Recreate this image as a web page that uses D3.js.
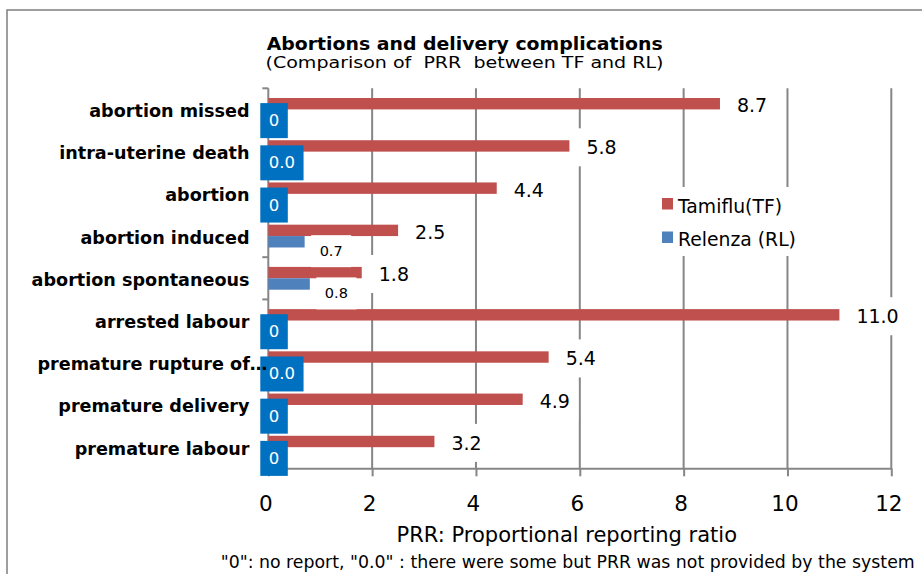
<!DOCTYPE html>
<html>
<head>
<meta charset="utf-8">
<script src="https://cdn.jsdelivr.net/npm/d3@7"></script>
<style>
  body { margin: 0; background: #fff; }
  text { font-family: "DejaVu Sans", Verdana, sans-serif; }
</style>
</head>
<body>
<div class="chart"></div>
<script>
var svgWidth = 922;
var svgHeight = 574;

// data
var categories = ["abortion missed", "intra-uterine death", "abortion ", "abortion induced",
  "abortion spontaneous", "arrested labour", "premature rupture of\u2026",
  "premature delivery", "premature labour"];
var tfValues = [8.7, 5.8, 4.4, 2.5, 1.8, 11.0, 5.4, 4.9, 3.2];
var rlValues = [0, 0, 0, 0.7, 0.8, 0, 0, 0, 0];
var rlLabels = ["0", "0.0", "0", "0.7", "0.8", "0", "0.0", "0", "0"];
var seriesNames = ["Tamiflu(TF)", "Relenza (RL)"];
var xTicks = [0, 2, 4, 6, 8, 10, 12];

var red = "#C0504D";
var blue = "#4F81BD";
var labelBlue = "#0070C0";
var gridGray = "#868686";

var svg = d3.select(".chart")
  .append("svg")
  .attr("width", svgWidth)
  .attr("height", svgHeight);

svg.append("rect")
  .attr("width", svgWidth)
  .attr("height", svgHeight)
  .attr("fill", "#fff");

// outer frame (right and bottom edges fall outside the picture)
svg.append("rect")
  .attr("x", 7)
  .attr("y", 10)
  .attr("width", 960)
  .attr("height", 600)
  .attr("fill", "none")
  .attr("stroke", "#7f7f7f")
  .attr("stroke-width", 1.5);

// scales
var xScale = d3.scaleLinear()
  .domain([0, 12])
  .range([268.3, 891.3]);

var y0 = d3.scaleBand()
  .domain(categories)
  .range([88.3, 468.3])
  .paddingInner(0.46)
  .paddingOuter(0.23);

var y1 = d3.scaleBand()
  .domain(["TF", "RL"])
  .range([0, y0.bandwidth()]);

var rows = categories.map(function(c, i) {
  return { cat: c, tf: tfValues[i], rl: rlValues[i], rlLabel: rlLabels[i] };
});

// gridlines
svg.append("g")
  .selectAll("line")
  .data(xTicks.filter(d => d > 0))
  .enter()
  .append("line")
  .attr("x1", d => xScale(d))
  .attr("x2", d => xScale(d))
  .attr("y1", 88.3)
  .attr("y2", 468.3)
  .attr("stroke", gridGray)
  .attr("stroke-width", 2);

// x axis
var bottomAxis = d3.axisBottom(xScale)
  .tickValues(xTicks)
  .tickSize(8)
  .tickSizeOuter(0)
  .tickPadding(19);

var xAxis = svg.append("g")
  .attr("transform", "translate(0, 468.3)")
  .call(bottomAxis);

xAxis.select(".domain").attr("stroke", gridGray).attr("stroke-width", 2);
xAxis.selectAll(".tick line").attr("stroke", gridGray).attr("stroke-width", 2);
xAxis.selectAll(".tick text")
  .attr("font-size", "21.5px")
  .attr("font-family", "DejaVu Sans")
  .attr("fill", "#000")
  .attr("dx", -3);

// y axis: line plus ticks at band boundaries
var step = y0.step();
var boundaries = d3.range(categories.length + 1).map(i => 88.3 + i * step);

svg.append("g")
  .selectAll("line")
  .data(boundaries)
  .enter()
  .append("line")
  .attr("x1", 262.3)
  .attr("x2", 268.3)
  .attr("y1", d => d)
  .attr("y2", d => d)
  .attr("stroke", gridGray)
  .attr("stroke-width", 2);

svg.append("line")
  .attr("x1", 268.3)
  .attr("x2", 268.3)
  .attr("y1", 88.3)
  .attr("y2", 468.3)
  .attr("stroke", gridGray)
  .attr("stroke-width", 2);

// bars
var barGroups = svg.append("g")
  .selectAll("g")
  .data(rows)
  .enter()
  .append("g")
  .attr("transform", d => `translate(0, ${y0(d.cat)})`);

barGroups.append("rect")
  .attr("x", xScale(0))
  .attr("y", y1("TF"))
  .attr("width", d => xScale(d.tf) - xScale(0))
  .attr("height", y1.bandwidth())
  .attr("fill", red);

barGroups.append("rect")
  .attr("x", xScale(0))
  .attr("y", y1("RL"))
  .attr("width", d => xScale(d.rl) - xScale(0))
  .attr("height", y1.bandwidth())
  .attr("fill", blue);

// data labels with boxed backgrounds
function boxedLabel(g, x, y, txt, size, textFill, boxFill) {
  var lg = g.append("g");
  var box = lg.append("rect").attr("fill", boxFill);
  var t = lg.append("text")
    .attr("x", x)
    .attr("y", y)
    .attr("font-size", size)
    .attr("fill", textFill)
    .text(txt);
  var bb = t.node().getBBox();
  box.attr("x", bb.x - 8.5)
    .attr("y", bb.y - 8)
    .attr("width", bb.width + 17)
    .attr("height", bb.height + 16);
}

var labelLayer = svg.append("g");

rows.forEach(function(d) {
  var top = y0(d.cat);
  var redMid = top + y1("TF") + y1.bandwidth() / 2;
  var blueMid = top + y1("RL") + y1.bandwidth() / 2;

  boxedLabel(labelLayer, xScale(d.tf) + 17, redMid + 8.4,
    d3.format(".1f")(d.tf), "19px", "#000", "#fff");

  if (d.rl > 0) {
    boxedLabel(labelLayer, xScale(d.rl) + 15, blueMid + 14.4,
      d.rlLabel, "14.5px", "#000", "#fff");
  } else {
    boxedLabel(labelLayer, xScale(0) + 0.5, blueMid + 11,
      d.rlLabel, "16.5px", "#fff", labelBlue);
  }
});

// category labels (drawn last, the truncated one runs over a label box)
var catLabels = svg.append("g")
  .selectAll("text")
  .data(categories)
  .enter()
  .append("text")
  .attr("x", 249.5)
  .attr("y", d => y0(d) + y0.bandwidth() / 2 + 7.5)
  .attr("text-anchor", "end")
  .attr("font-size", "17.6px")
  .attr("font-weight", "bold")
  .attr("fill", "#000")
  .text(d => d);

// labels that do not fit start at the left edge of the plot
catLabels.each(function() {
  var w = this.getComputedTextLength();
  if (249.5 - w < 30) {
    d3.select(this).attr("text-anchor", "start").attr("x", 37.5);
  }
});

// legend
var legend = svg.append("g");

legend.append("rect")
  .attr("x", 652)
  .attr("y", 187)
  .attr("width", 156)
  .attr("height", 69)
  .attr("fill", "#fff");

var legendItems = legend.selectAll("g")
  .data(seriesNames)
  .enter()
  .append("g")
  .attr("transform", (d, i) => `translate(662, ${198 + i * 33.5})`);

legendItems.append("rect")
  .attr("width", 11)
  .attr("height", 11.5)
  .attr("fill", (d, i) => i === 0 ? red : blue);

legendItems.append("text")
  .attr("x", 16)
  .attr("y", 14.7)
  .attr("font-size", "18.8px")
  .attr("fill", "#000")
  .text(d => d);

// titles
svg.append("text")
  .attr("x", 266.7)
  .attr("y", 49.5)
  .attr("font-size", "18px")
  .attr("font-weight", "bold")
  .attr("fill", "#000")
  .attr("textLength", 396)
  .attr("lengthAdjust", "spacingAndGlyphs")
  .text("Abortions and delivery complications");

svg.append("text")
  .attr("x", 265.5)
  .attr("y", 68)
  .attr("font-size", "16px")
  .attr("fill", "#000")
  .attr("textLength", 398)
  .attr("lengthAdjust", "spacingAndGlyphs")
  .style("white-space", "pre")
  .text("(Comparison of  PRR  between TF and RL)");

// axis title and note
svg.append("text")
  .attr("x", 566.8)
  .attr("y", 541.7)
  .attr("text-anchor", "middle")
  .attr("font-size", "21px")
  .attr("fill", "#000")
  .text("PRR: Proportional reporting ratio");

svg.append("text")
  .attr("x", 220.7)
  .attr("y", 567.5)
  .attr("font-size", "17.5px")
  .attr("fill", "#000")
  .attr("textLength", 694)
  .attr("lengthAdjust", "spacingAndGlyphs")
  .text("\"0\": no report, \"0.0\" : there were some but PRR was not provided by the system");
</script>
</body>
</html>
